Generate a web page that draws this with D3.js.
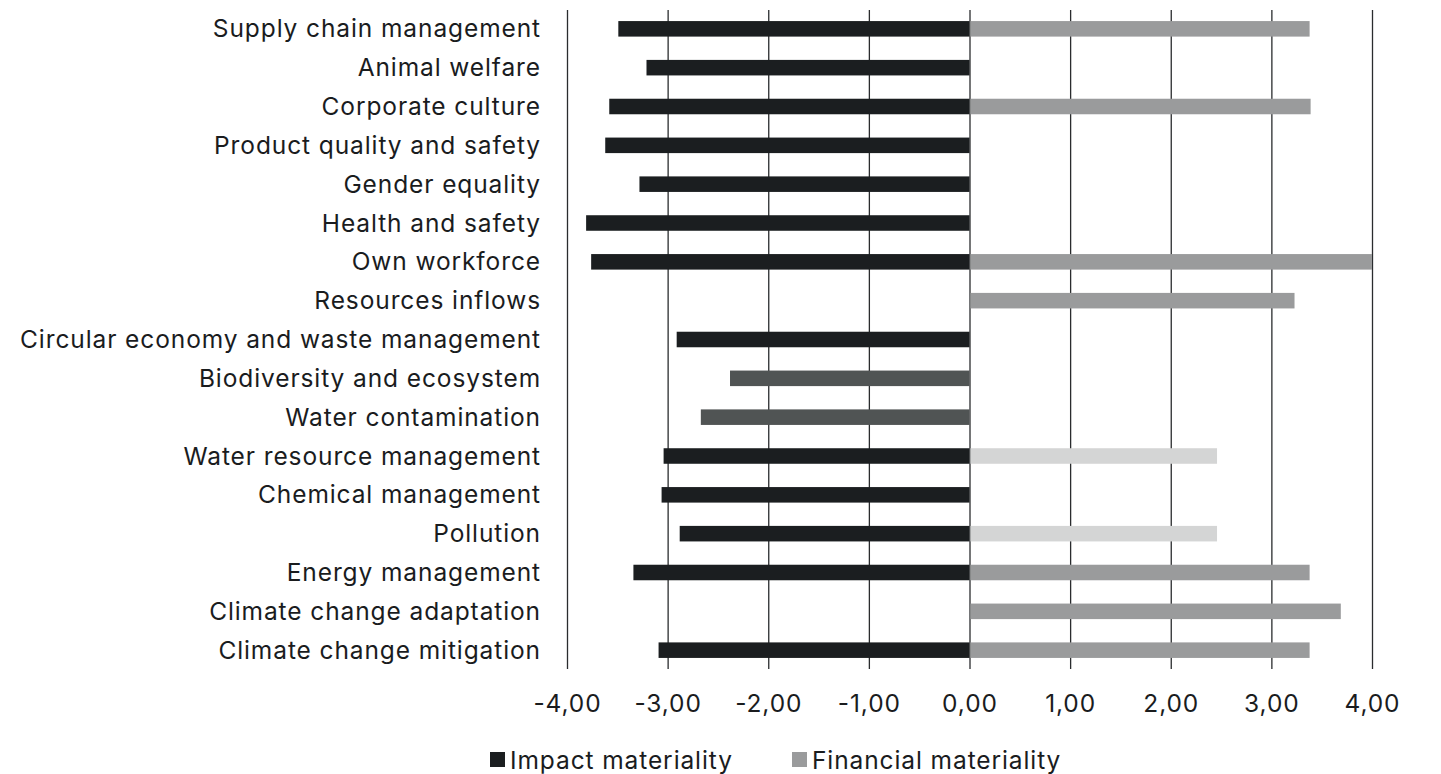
<!DOCTYPE html>
<html>
<head>
<meta charset="utf-8">
<script src="https://cdn.jsdelivr.net/npm/d3@7"></script>
<style>
  html, body { margin: 0; padding: 0; background: #fff; }
  svg { display: block; }
  text { font-family: Inter, "Noto Sans", sans-serif; fill: #1a1c1e; letter-spacing: 0.9px; }
</style>
</head>
<body>
<svg id="chart" width="1441" height="774"></svg>
<script>
// Topics, listed top to bottom
const categories = [
  "Supply chain management",
  "Animal welfare",
  "Corporate culture",
  "Product quality and safety",
  "Gender equality",
  "Health and safety",
  "Own workforce",
  "Resources inflows",
  "Circular economy and waste management",
  "Biodiversity and ecosystem",
  "Water contamination",
  "Water resource management",
  "Chemical management",
  "Pollution",
  "Energy management",
  "Climate change adaptation",
  "Climate change mitigation"
];

// Impact materiality scores (plotted to the left of zero)
const impactValues = [
  -3.49, -3.21, -3.58, -3.62, -3.28, -3.81, -3.76, null,
  -2.91, -2.38, -2.67, -3.04, -3.06, -2.88, -3.34, null, -3.09
];

// Financial materiality scores (plotted to the right of zero)
const financialValues = [
  3.38, null, 3.39, null, null, null, 4.00, 3.23,
  null, null, null, 2.46, null, 2.46, 3.38, 3.69, 3.38
];

// Topics drawn in an alternate shade
const impactShaded = ["Biodiversity and ecosystem", "Water contamination"];
const financialShaded = ["Water resource management", "Pollution"];

const tickValues = [-4, -3, -2, -1, 0, 1, 2, 3, 4];
const seriesNames = ["Impact materiality", "Financial materiality"];

const colors = {
  impact: "#1b1e20",
  impactAlt: "#505454",
  financial: "#9a9b9c",
  financialAlt: "#d4d5d5",
  grid: "#2a2c2e"
};

const svg = d3.select("#chart");

const plotTop = 10, plotBottom = 669;

const x = d3.scaleLinear().domain([-4, 4]).range([567, 1372]);
const y = d3.scaleBand()
  .domain(categories)
  .range([plotTop, plotBottom])
  .paddingInner(0.6)
  .paddingOuter(0.285);

const locale = d3.formatLocale({
  decimal: ",", thousands: ".", grouping: [3], currency: ["", "€"], minus: "-"
});
const fmt = locale.format(".2f");

// Vertical gridlines with short ticks below the plot
const gridAxis = d3.axisBottom(x)
  .tickValues(tickValues)
  .tickSize(plotBottom - plotTop)
  .tickFormat(fmt)
  .tickPadding(21);

const gAxis = svg.append("g")
  .attr("transform", `translate(0,${plotTop})`)
  .call(gridAxis);
gAxis.select(".domain").remove();
gAxis.selectAll(".tick line")
  .attr("stroke", colors.grid)
  .attr("stroke-width", 1.3);
gAxis.selectAll(".tick text")
  .attr("font-size", 24.5)
  .attr("font-family", null)
  .attr("dy", "0.9em")
  .style("fill", "#1a1c1e");

const rows = categories.map((c, i) => ({
  cat: c, impact: impactValues[i], financial: financialValues[i]
}));

// Impact bars
svg.append("g").selectAll("rect")
  .data(rows.filter(d => d.impact != null))
  .join("rect")
  .attr("x", d => x(d.impact))
  .attr("width", d => x(0) - x(d.impact))
  .attr("y", d => y(d.cat))
  .attr("height", y.bandwidth())
  .attr("fill", d => impactShaded.includes(d.cat) ? colors.impactAlt : colors.impact);

// Financial bars
svg.append("g").selectAll("rect")
  .data(rows.filter(d => d.financial != null))
  .join("rect")
  .attr("x", x(0) + 1)
  .attr("width", d => x(d.financial) - x(0) - 1)
  .attr("y", d => y(d.cat))
  .attr("height", y.bandwidth())
  .attr("fill", d => financialShaded.includes(d.cat) ? colors.financialAlt : colors.financial);

// Category labels
svg.append("g").selectAll("text")
  .data(categories)
  .join("text")
  .attr("x", x(-4) - 26)
  .attr("y", d => y(d) + y.bandwidth() / 2)
  .attr("dy", "0.35em")
  .attr("text-anchor", "end")
  .attr("font-size", 24.5)
  .text(d => d);

// Legend
const legendItems = [
  { name: seriesNames[0], color: colors.impact, x: 490 },
  { name: seriesNames[1], color: colors.financial, x: 792 }
];
const legend = svg.append("g").selectAll("g")
  .data(legendItems)
  .join("g")
  .attr("transform", d => `translate(${d.x},752)`);
legend.append("rect")
  .attr("width", 15).attr("height", 15)
  .attr("fill", d => d.color);
legend.append("text")
  .attr("x", 20)
  .attr("y", 8)
  .attr("dy", "0.35em")
  .attr("font-size", 24.5)
  .text(d => d.name);
</script>
</body>
</html>
